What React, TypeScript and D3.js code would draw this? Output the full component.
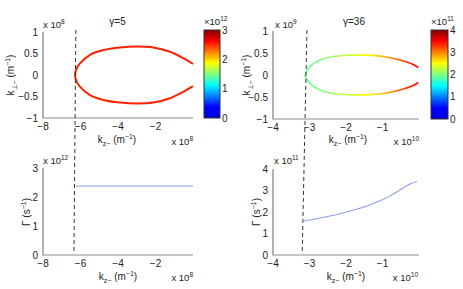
import React from 'react';
import * as d3 from 'd3';

// upper branch of the k-space contours (lower branch is its mirror image)
const kzEllipseA = [-6.29, -6.2, -6.03, -5.49, -4.78, -3.89, -3.0, -2.12, -1.23, -0.52, 0.0]; // x 1e8
const kpEllipseA = [0, 0.16, 0.27, 0.47, 0.58, 0.64, 0.66, 0.64, 0.54, 0.39, 0.26]; // x 1e8
const kzEllipseB = [-3.12, -3.06, -2.99, -2.71, -2.35, -1.89, -1.43, -0.98, -0.52, -0.16, -0.02]; // x 1e10
const kpEllipseB = [0, 0.11, 0.19, 0.34, 0.42, 0.45, 0.45, 0.42, 0.34, 0.24, 0.17]; // x 1e9

// growth rate vs k_z
const kzGammaA = [-6.25, -4, -2, 0];
const gammaA = [2.38, 2.38, 2.38, 2.38]; // x 1e12
const kzGammaB = [-3.15, -2.44, -1.98, -1.53, -1.34, -1.07, -0.79, -0.43, -0.25, -0.06];
const gammaB = [1.58, 1.81, 2.01, 2.22, 2.33, 2.52, 2.75, 3.12, 3.3, 3.42]; // x 1e11

// colour limits used for the contour colouring
const colourDomainA = [-0.15, 2.85];
const colourDomainB = [-0.58, 4.0];

// dashed cut-off marker (top end, bottom end)
const cutA = [-6.25, -6.35];
const cutB = [-3.07, -3.2];

const xTicksA = [-8, -6, -4, -2];
const xTicksB = [-4, -3, -2, -1];
const yTicksTop = [-1, -0.5, 0, 0.5, 1];
const yTicksGammaA = [0, 1, 2, 3];
const yTicksGammaB = [0, 1, 2, 3, 4];

const FONT = '"Liberation Sans", Arial, Helvetica, sans-serif';
const fmt = (v: number) => String(v).replace('-', '\u2212');

const jet = (t: number) => {
  const c = (v: number) => Math.max(0, Math.min(1, v));
  const r = c(1.5 - Math.abs(4 * t - 3));
  const g = c(1.5 - Math.abs(4 * t - 2));
  const b = t < 0.125 ? 0.85 + t * 1.2 : c(1.5 - Math.abs(4 * t - 1));
  return d3.rgb(r * 255, g * 255, b * 255).formatHex();
};

const Exp = ({ x, y, base, exp, anchor = 'start' }: any) => (
  <text x={x} y={y} fontSize={9.5} textAnchor={anchor} fill="#222">
    {base}
    <tspan dy={-4} fontSize={6.5}>{exp}</tspan>
  </text>
);

const XLabel = ({ x, y }: any) => (
  <text x={x} y={y} fontSize={10} textAnchor="middle" fill="#222">
    k<tspan dy={2.5} fontSize={7}>z{'\u2212'}</tspan>
    <tspan dy={-2.5}> (m</tspan>
    <tspan dy={-4} fontSize={7}>{'\u2212'}1</tspan>
    <tspan dy={4}>)</tspan>
  </text>
);

const Axes = ({ x, y, xTicks, yTicks }: any) => {
  const [x0, x1] = x.range();
  const [y0] = y.range();
  return (
    <g fontSize={10} fill="#222">
      <line x1={x0} x2={x1} y1={y0} y2={y0} stroke="#8a8a8a" strokeWidth={1} />
      <line x1={x0} x2={x0} y1={y.range()[1]} y2={y0 + 0.5} stroke="#b0b0b0" strokeWidth={2} />
      {xTicks.map((t: number) => (
        <text key={'x' + t} x={x(t)} y={y0 + 12} textAnchor="middle">{fmt(t)}</text>
      ))}
      {yTicks.map((t: number) => (
        <text key={'y' + t} x={x0 - 5} y={y(t) + 3.5} textAnchor="end">{fmt(t)}</text>
      ))}
    </g>
  );
};

const Colorbar = ({ id, x0, x1, y0, y1, max, exp }: any) => {
  const s = d3.scaleLinear().domain([0, max]).range([y1, y0]);
  const stops = d3.range(0, 1.0001, 0.0625);
  return (
    <g>
      <defs>
        <linearGradient id={id} x1="0" y1="1" x2="0" y2="0">
          {stops.map((t) => (
            <stop key={t} offset={t} stopColor={jet(t)} />
          ))}
        </linearGradient>
      </defs>
      <rect x={x0} y={y0} width={x1 - x0} height={y1 - y0} fill={`url(#${id})`} stroke="#333" strokeWidth={1} />
      {d3.range(0, max + 1).map((v) => (
        <text key={v} x={x1 + 2} y={s(v) + 3.5} fontSize={10} fill="#222">{v}</text>
      ))}
      <Exp x={x0} y={y0 - 5} base={'\u00d710'} exp={exp} />
    </g>
  );
};

const Contour = ({ id, kz, kp, x, y, stops, width }: any) => {
  const pts: [number, number][] = [];
  for (let i = kz.length - 1; i > 0; i--) pts.push([kz[i], -kp[i]]);
  for (let i = 0; i < kz.length; i++) pts.push([kz[i], kp[i]]);
  const line = d3.line<[number, number]>().x((d) => x(d[0])).y((d) => y(d[1])).curve(d3.curveCatmullRom);
  const [xa, xb] = x.range();
  return (
    <g>
      <defs>
        <linearGradient id={id} gradientUnits="userSpaceOnUse" x1={xa} x2={xb} y1={0} y2={0}>
          {stops.map((s: any, i: number) => (
            <stop key={i} offset={(x(s[0]) - xa) / (xb - xa)} stopColor={s[1]} />
          ))}
        </linearGradient>
      </defs>
      <path d={line(pts) || ''} fill="none" stroke={`url(#${id})`} strokeWidth={width} />
    </g>
  );
};

export default function App() {
  const xTL = d3.scaleLinear().domain([-8, 0]).range([43, 193]);
  const yTL = d3.scaleLinear().domain([-1, 1]).range([118, 32]);
  const xTR = d3.scaleLinear().domain([-4, 0]).range([273, 419]);
  const yTR = d3.scaleLinear().domain([-1, 1]).range([119, 31]);
  const xBL = d3.scaleLinear().domain([-8, 0]).range([43, 193]);
  const yBL = d3.scaleLinear().domain([0, 3]).range([255, 168]);
  const xBR = d3.scaleLinear().domain([-4, 0]).range([273, 419]);
  const yBR = d3.scaleLinear().domain([0, 4]).range([255, 169]);

  const lineA = d3.line<number>().x((_, i) => xBL(kzGammaA[i])).y((d) => yBL(d));
  const lineB = d3.line<number>().x((_, i) => xBR(kzGammaB[i])).y((d) => yBR(d)).curve(d3.curveMonotoneX);

  // colour along each contour follows the growth rate at that k_z
  const tA = d3.scaleLinear().domain(colourDomainA).range([0, 1]);
  const tB = d3.scaleLinear().domain(colourDomainB).range([0, 1]);
  const gB = d3.scaleLinear().domain(kzGammaB).range(gammaB).clamp(true);
  const stopsA = kzGammaA.map((k, i) => [k, jet(tA(gammaA[i]))]);
  const stopsB = d3.range(-4, 0.001, 0.1).map((k) => [k, jet(tB(gB(k)))]);

  return (
    <svg width={463} height={289} style={{ position: 'absolute', left: 0, top: 0, background: '#fff' }} fontFamily={FONT}>
      <rect width={463} height={289} fill="#fff" />

      {/* left column, gamma = 5 */}
      <Axes x={xTL} y={yTL} xTicks={xTicksA} yTicks={yTicksTop} />
      <Contour id="gA" kz={kzEllipseA} kp={kpEllipseA} x={xTL} y={yTL} stops={stopsA} width={2} />
      <text x={117.5} y={25} fontSize={10} textAnchor="middle" fill="#222">{'\u03b3'}=5</text>
      <Exp x={43} y={28} base="x 10" exp="8" />
      <Exp x={193} y={145} base="x 10" exp="8" anchor="end" />
      <XLabel x={117} y={143} />
      <text transform="translate(14,75) rotate(-90)" fontSize={10} textAnchor="middle" fill="#222">
        k<tspan dy={2.5} fontSize={7}>{'\u22a5\u2212'}</tspan>
        <tspan dy={-2.5}> (m</tspan>
        <tspan dy={-4} fontSize={7}>{'\u2212'}1</tspan>
        <tspan dy={4}>)</tspan>
      </text>
      <Colorbar id="cbA" x0={204} x1={220} y0={30} y1={118} max={3} exp="12" />

      <Axes x={xBL} y={yBL} xTicks={xTicksA} yTicks={yTicksGammaA} />
      <path d={lineA(gammaA) || ''} fill="none" stroke="#8d9cf2" strokeWidth={1.1} />
      <Exp x={43} y={164} base="x 10" exp="12" />
      <Exp x={193} y={281} base="x 10" exp="8" anchor="end" />
      <XLabel x={118} y={280} />
      <text transform="translate(30,212) rotate(-90)" fontSize={10} textAnchor="middle" fill="#222">
        {'\u0393'} (s<tspan dy={-4} fontSize={7}>{'\u2212'}1</tspan>
        <tspan dy={4}>)</tspan>
      </text>
      <line x1={xTL(cutA[0])} y1={30} x2={xBL(cutA[1])} y2={254} stroke="#333" strokeWidth={1} strokeDasharray="4,3" />

      {/* right column, gamma = 36 */}
      <Axes x={xTR} y={yTR} xTicks={xTicksB} yTicks={yTicksTop} />
      <Contour id="gB" kz={kzEllipseB} kp={kpEllipseB} x={xTR} y={yTR} stops={stopsB} width={1.7} />
      <text x={354} y={25} fontSize={10} textAnchor="middle" fill="#222">{'\u03b3'}=36</text>
      <Exp x={275} y={28} base="x 10" exp="9" />
      <Exp x={419} y={145} base="x 10" exp="10" anchor="end" />
      <XLabel x={348} y={143} />
      <text transform="translate(250,75) rotate(-90)" fontSize={10} textAnchor="middle" fill="#222">
        k<tspan dy={2.5} fontSize={7}>{'\u22a5\u2212'}</tspan>
        <tspan dy={-2.5}> (m</tspan>
        <tspan dy={-4} fontSize={7}>{'\u2212'}1</tspan>
        <tspan dy={4}>)</tspan>
      </text>
      <Colorbar id="cbB" x0={431} x1={448} y0={30} y1={119} max={4} exp="11" />

      <Axes x={xBR} y={yBR} xTicks={xTicksB} yTicks={yTicksGammaB} />
      <path d={lineB(gammaB) || ''} fill="none" stroke="#8d9cf2" strokeWidth={1.1} />
      <Exp x={274} y={164} base="x 10" exp="11" />
      <Exp x={418} y={281} base="x 10" exp="10" anchor="end" />
      <XLabel x={346} y={280} />
      <text transform="translate(260,212) rotate(-90)" fontSize={10} textAnchor="middle" fill="#222">
        {'\u0393'} (s<tspan dy={-4} fontSize={7}>{'\u2212'}1</tspan>
        <tspan dy={4}>)</tspan>
      </text>
      <line x1={xTR(cutB[0])} y1={30} x2={xBR(cutB[1])} y2={254} stroke="#333" strokeWidth={1} strokeDasharray="4,3" />
    </svg>
  );
}
